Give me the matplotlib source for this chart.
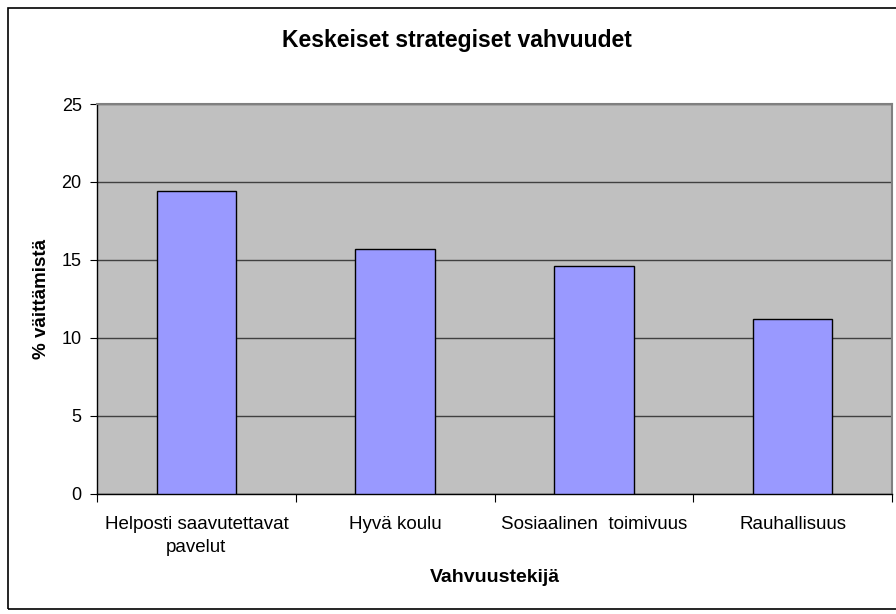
import matplotlib.pyplot as plt
from matplotlib.patches import Rectangle
import numpy as np

plt.rcParams['font.family'] = ['Liberation Sans', 'DejaVu Sans']

# data
categories = ["Helposti saavutettavat\npavelut", "Hyvä koulu", "Sosiaalinen  toimivuus", "Rauhallisuus"]
values = [19.4, 15.7, 14.6, 11.2]

fig = plt.figure(figsize=(8.96, 6.14), dpi=100)
ax = fig.add_axes([97 / 896, 120.5 / 614, 795 / 896, 389.5 / 614])

x = np.arange(len(categories))
ax.bar(x, values, width=0.4, color="#9999ff", edgecolor="black", linewidth=1.0, zorder=3)

ax.set_facecolor("#c0c0c0")
ax.set_xlim(-0.5, len(categories) - 0.5)
ax.set_ylim(0, 25)
ax.set_yticks([0, 5, 10, 15, 20, 25])
ax.yaxis.grid(True, color="#404040", linewidth=1.0, zorder=1)
ax.set_axisbelow(True)

# x ticks between categories, labels centred
ax.set_xticks(np.arange(-0.5, len(categories), 1.0))
ax.set_xticklabels([])
ax.set_xticks(x, minor=True)
ax.set_xticklabels(categories, minor=True, fontsize=13.5, linespacing=1.45)
ax.tick_params(axis="x", which="minor", length=0, pad=16)
ax.tick_params(axis="x", which="major", length=6, direction="out", color="black")
ax.tick_params(axis="y", length=5, direction="out", labelsize=13, pad=6)

for side in ["top", "right"]:
    ax.spines[side].set_color("#808080")
    ax.spines[side].set_linewidth(1.5)
for side in ["left", "bottom"]:
    ax.spines[side].set_color("black")
    ax.spines[side].set_linewidth(1.0)

ax.set_xlabel("Vahvuustekijä", fontsize=14, fontweight="bold")
ax.xaxis.set_label_coords(0.5, -(578 - 493.5) / 389.5)
ax.xaxis.label.set_va("center")
ax.set_ylabel("% väittämistä", fontsize=13.5, fontweight="bold")
ax.yaxis.set_label_coords(-(97 - 42) / 795, 0.5)
ax.yaxis.label.set_va("center")

fig.text(0.51, 1 - 41 / 614, "Keskeiset strategiset vahvuudet", ha="center", va="center",
         fontsize=16.5, fontweight="bold")

# outer chart frame
fig.patches.append(Rectangle((8 / 896, 5 / 614), 1.0, 1 - 13 / 614, transform=fig.transFigure,
                             fill=False, edgecolor="black", linewidth=1.2))

fig.savefig("out.png", dpi=100)
